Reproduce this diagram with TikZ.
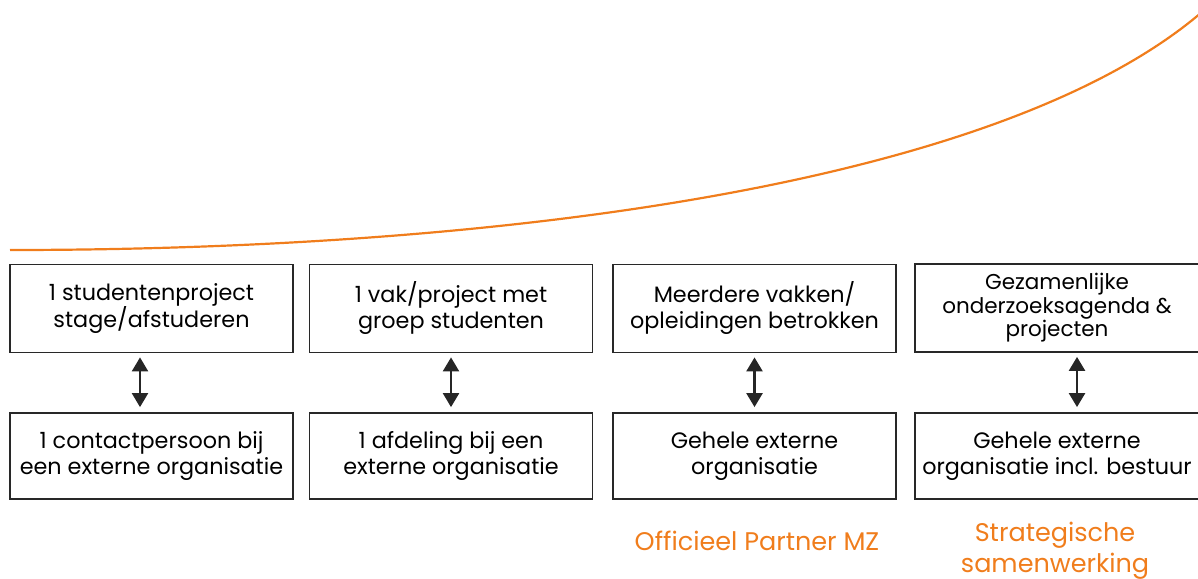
\documentclass[tikz,border=0pt]{standalone}
\usepackage{fontspec}
\setmainfont{Poppins}
\usetikzlibrary{arrows.meta}
\definecolor{curveorange}{RGB}{240,125,28}
\definecolor{boxline}{RGB}{40,40,40}
\begin{document}
\begin{tikzpicture}[x=1pt,y=-1pt,
  box/.style={draw=boxline, line width=1.8pt, align=center, inner sep=0pt,
    minimum width=283pt, minimum height=88pt, font=\fontsize{22.3}{26}\selectfont},
  dblarrow/.style={line width=2.4pt, draw=black!85, {Triangle[width=16pt,length=14pt]}-{Triangle[width=16pt,length=14pt]}},
  label/.style={text=curveorange, align=center, font=\fontsize{25.5}{31}\selectfont}]
\useasboundingbox (0,0) rectangle (1198,578);
\begin{scope}
\clip (0,0) rectangle (1198,578);
\draw[curveorange, line width=2.2pt] (10,250) .. controls (500,250) and (1000,185) .. (1202,12);

\node[box] (t1) at (151.5,308.5) {1 studentenproject\\stage/afstuderen};
\node[box] (t2) at (451,308.5) {1 vak/project met\\groep studenten};
\node[box] (t3) at (754.5,308.5) {Meerdere vakken/\\opleidingen betrokken};
\node[box, minimum width=284pt, font=\fontsize{21.5}{23.5}\selectfont] (t4) at (1057,308) {Gezamenlijke\\onderzoeksagenda \&\\projecten};

\node[box, minimum height=86pt] (b1) at (151.5,456) {1 contactpersoon bij\\een externe organisatie};
\node[box, minimum height=86pt] (b2) at (451,456) {1 afdeling bij een\\externe organisatie};
\node[box, minimum height=86pt] (b3) at (754.5,456) {Gehele externe\\organisatie};
\node[box, minimum height=86pt, minimum width=284pt] (b4) at (1057,456) {Gehele externe\\organisatie incl. bestuur};

\draw[dblarrow] ([xshift=-11.5pt,yshift=-4pt]t1.south) -- ([xshift=-11.5pt,yshift=5pt]b1.north);
\draw[dblarrow] ([yshift=-4pt]t2.south) -- ([yshift=5pt]b2.north);
\draw[dblarrow] ([yshift=-4pt]t3.south) -- ([yshift=5pt]b3.north);
\draw[dblarrow] ([xshift=20pt,yshift=-4pt]t4.south) -- ([xshift=20pt,yshift=5pt]b4.north);

\node[label] (l3) at (757,541) {Officieel Partner MZ};
\node[label] (l4) at (1055,551) {Strategische\\samenwerking};
\end{scope}
\end{tikzpicture}
\end{document}
